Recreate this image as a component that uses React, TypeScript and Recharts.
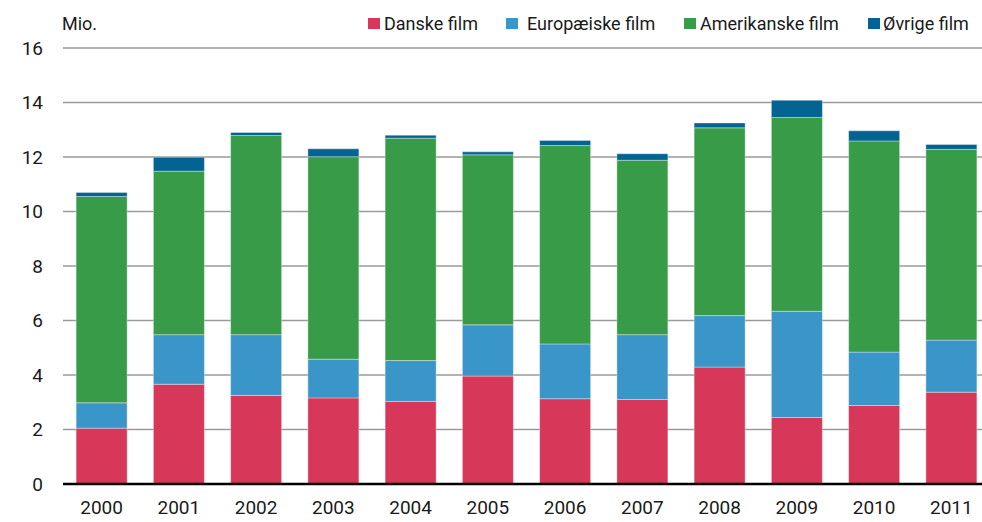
import React from "react";
import { BarChart, Bar, XAxis, YAxis, CartesianGrid, Legend } from "recharts";

const years = ["2000","2001","2002","2003","2004","2005","2006","2007","2008","2009","2010","2011"];
const danske = [2.05, 3.66, 3.25, 3.16, 3.03, 3.96, 3.13, 3.10, 4.29, 2.44, 2.88, 3.37];
const europaeiske = [0.93, 1.82, 2.23, 1.42, 1.50, 1.88, 2.01, 2.38, 1.89, 3.90, 1.96, 1.91];
const amerikanske = [7.57, 6.00, 7.31, 7.43, 8.16, 6.24, 7.28, 6.40, 6.89, 7.11, 7.75, 7.00];
const oevrige = [0.15, 0.51, 0.11, 0.29, 0.11, 0.11, 0.19, 0.24, 0.18, 0.63, 0.37, 0.18];
const yTicks = [0, 2, 4, 6, 8, 10, 12, 14, 16];

const seriesNames = ["Danske film", "Europæiske film", "Amerikanske film", "Øvrige film"];
const colors = ["#D7385A", "#3A95C9", "#379B48", "#036494"];

const data = years.map((y, i) => ({
  year: y,
  danske: danske[i],
  europaeiske: europaeiske[i],
  amerikanske: amerikanske[i],
  oevrige: oevrige[i],
}));

const FONT = "Roboto, 'Noto Sans', sans-serif";

const squareLefts = [368, 506, 684, 868];
const textLefts = [384, 527, 700, 883];

const renderLegend = (props: any) => {
  const payload = props.payload || [];
  return (
    <div style={{ position: "relative", width: 982, height: 0 }}>
      {payload.map((entry: any) => {
        const i = seriesNames.indexOf(entry.value);
        return (
          <React.Fragment key={entry.value}>
            <div
              style={{
                position: "absolute",
                left: squareLefts[i],
                top: 18,
                width: 12,
                height: 11,
                background: entry.color,
              }}
            />
            <div
              style={{
                position: "absolute",
                left: textLefts[i],
                top: 12,
                fontFamily: FONT,
                fontSize: 18,
                lineHeight: "24px",
                color: "#1a1a1a",
                whiteSpace: "nowrap",
              }}
            >
              {entry.value}
            </div>
          </React.Fragment>
        );
      })}
    </div>
  );
};

export default function App() {
  return (
    <div
      style={{
        position: "absolute",
        left: 0,
        top: 0,
        width: 982,
        height: 522,
        overflow: "hidden",
        background: "#fff",
      }}
    >
      <div
        style={{
          position: "absolute",
          left: 62,
          top: 12,
          fontFamily: FONT,
          fontSize: 18,
          lineHeight: "24px",
          color: "#1a1a1a",
        }}
      >
        Mio.
      </div>
      <BarChart
        width={992}
        height={522}
        data={data}
        margin={{ top: 48, right: 2, bottom: 0, left: 0 }}
        barCategoryGap="17%"
      >
        <CartesianGrid vertical={false} stroke="#9a9a9a" strokeWidth={1.5} />
        <XAxis
          dataKey="year"
          height={38}
          axisLine={{ stroke: "#000", strokeWidth: 2.5 }}
          tickLine={false}
          tickMargin={11}
          tick={{ fill: "#1a1a1a", fontSize: 19, fontFamily: FONT }}
        />
        <YAxis
          width={63}
          domain={[0, 16]}
          ticks={yTicks}
          axisLine={false}
          tickLine={false}
          tickMargin={14}
          tick={{ fill: "#1a1a1a", fontSize: 19, fontFamily: FONT }}
        />
        <Legend
          verticalAlign="top"
          content={renderLegend}
          wrapperStyle={{ top: 0, left: 0, width: 982, height: 0 }}
        />
        <Bar dataKey="danske" name={seriesNames[0]} stackId="a" fill={colors[0]} stroke="rgba(255,255,255,0.35)" strokeWidth={1} isAnimationActive={false} />
        <Bar dataKey="europaeiske" name={seriesNames[1]} stackId="a" fill={colors[1]} stroke="rgba(255,255,255,0.35)" strokeWidth={1} isAnimationActive={false} />
        <Bar dataKey="amerikanske" name={seriesNames[2]} stackId="a" fill={colors[2]} stroke="rgba(255,255,255,0.35)" strokeWidth={1} isAnimationActive={false} />
        <Bar dataKey="oevrige" name={seriesNames[3]} stackId="a" fill={colors[3]} stroke="rgba(255,255,255,0.35)" strokeWidth={1} isAnimationActive={false} />
      </BarChart>
    </div>
  );
}
